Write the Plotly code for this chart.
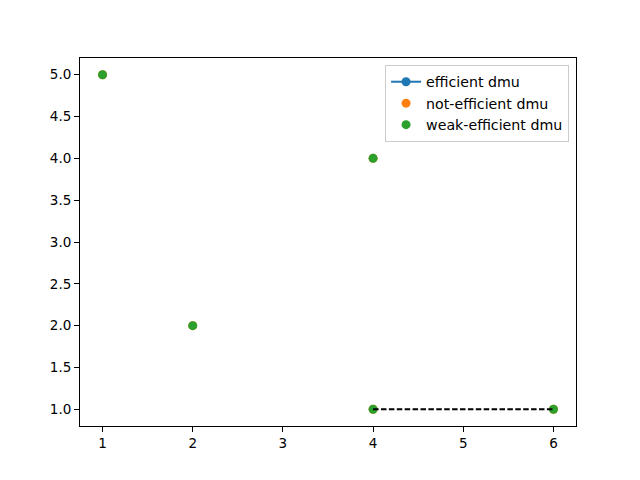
import plotly.graph_objects as go

efficient_x = [None]
efficient_y = [None]
not_efficient_x = [1, 2, 4, 4, 6]
not_efficient_y = [5, 2, 4, 1, 1]
weak_x = [1, 2, 4, 4, 6]
weak_y = [5, 2, 4, 1, 1]
frontier_x = [4, 6]
frontier_y = [1, 1]

x_ticks = [1, 2, 3, 4, 5, 6]
y_ticks = [1.0, 1.5, 2.0, 2.5, 3.0, 3.5, 4.0, 4.5, 5.0]

fig = go.Figure()
fig.add_trace(go.Scatter(x=efficient_x, y=efficient_y, mode="lines+markers", name="efficient dmu",
                         line=dict(color="#1f77b4", width=2), marker=dict(color="#1f77b4", size=9)))
fig.add_trace(go.Scatter(x=not_efficient_x, y=not_efficient_y, mode="markers", name="not-efficient dmu",
                         marker=dict(color="#ff7f0e", size=9)))
fig.add_trace(go.Scatter(x=weak_x, y=weak_y, mode="markers", name="weak-efficient dmu",
                         marker=dict(color="#2ca02c", size=9)))
fig.add_trace(go.Scatter(x=frontier_x, y=frontier_y, mode="lines", showlegend=False,
                         line=dict(color="black", width=2, dash="5.5px,2.4px")))

axis_common = dict(showline=True, linecolor="black", linewidth=1, mirror=True, ticks="outside",
                   ticklen=5, tickcolor="black", showgrid=False, zeroline=False,
                   tickfont=dict(family="DejaVu Sans", size=13.5, color="black"))
fig.update_xaxes(range=[0.75, 6.25], tickvals=x_ticks, ticktext=[str(v) for v in x_ticks], **axis_common)
fig.update_yaxes(range=[0.8, 5.2], tickvals=y_ticks, ticktext=[f"{v:.1f}" for v in y_ticks], **axis_common)

fig.update_layout(
    width=640, height=480,
    margin=dict(l=72, r=72, t=50, b=62),
    plot_bgcolor="white", paper_bgcolor="white",
    font=dict(family="DejaVu Sans", size=13.5, color="black"),
    legend=dict(x=0.986, y=0.981, xanchor="right", yanchor="top",
                bordercolor="#cccccc", borderwidth=1, bgcolor="rgba(255,255,255,0.8)",
                font=dict(family="DejaVu Sans", size=14.2), tracegroupgap=0),
)
fig.write_html("out.html")
